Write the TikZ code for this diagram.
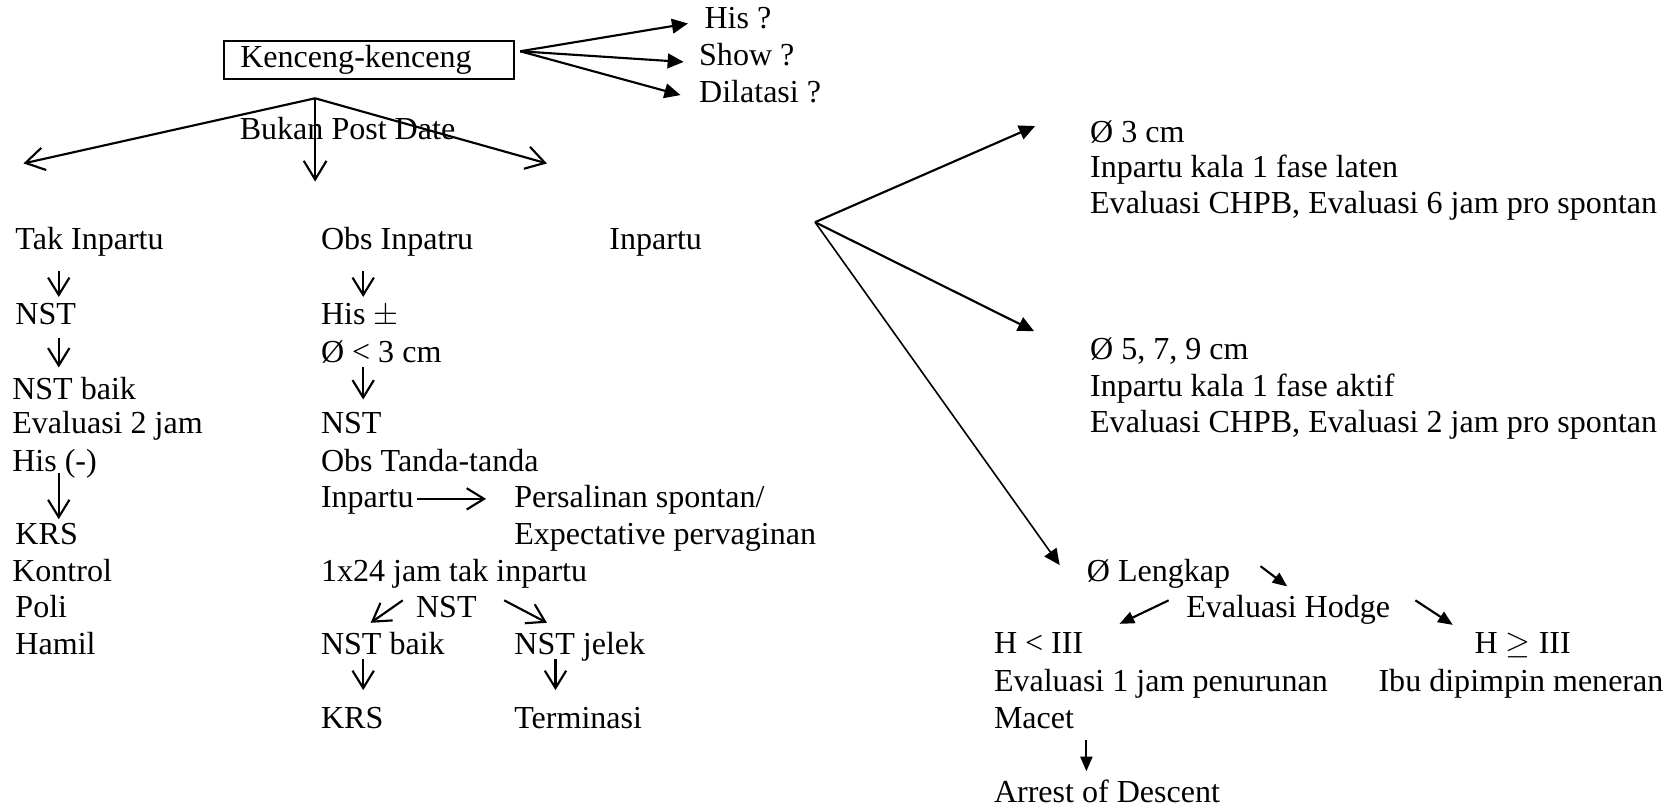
\documentclass[tikz,border=0pt]{standalone}
\usepackage{fontspec}
\setmainfont{Liberation Serif}
\usetikzlibrary{arrows.meta}
\begin{document}
\begin{tikzpicture}[x=0.4pt,y=-0.4pt,
  font=\fontsize{12}{13.8}\selectfont,
  txt/.style={anchor=base west, inner sep=0pt},
  openarr/.style={line width=0.8pt, -{Straight Barb[length=6.5pt,width=8pt]}},
  bigopen/.style={line width=0.8pt, -{Straight Barb[length=7pt,width=8.5pt]}},
  fillarr/.style={line width=0.8pt, -{Triangle[length=6pt,width=5.5pt]}},
  thinfill/.style={line width=0.6pt, -{Triangle[length=6pt,width=5.5pt]}},
  smallfill/.style={line width=0.8pt, -{Triangle[length=5.5pt,width=4.5pt]}}]
\useasboundingbox (0,0) rectangle (1568,759);

% top box
\node (box) [draw, line width=0.8pt, inner xsep=6pt, inner ysep=0pt, text width=96.4pt,
  minimum height=14.4pt, align=left] at (345.5,56) {Kenceng-kenceng};
\coordinate (boxr) at (487,48);
\node (his) [txt] at (659,27) {His ?};
\node (show) [txt] at (654,61) {Show ?};
\node (dil) [txt] at (654,96) {Dilatasi ?};
\coordinate (hisT) at (644,22);
\coordinate (showT) at (640,58);
\coordinate (dilT) at (637,89);
\draw[fillarr] (boxr) -- (hisT);
\draw[fillarr] (boxr) -- (showT);
\draw[fillarr] (boxr) -- (dilT);

% first fork
\coordinate (fork) at (295,92);
\coordinate (forkL) at (22,153);
\coordinate (forkM) at (295,170);
\coordinate (forkR) at (512,153);
\draw[bigopen] (fork) -- (forkL);
\draw[bigopen] (fork) -- (forkM);
\draw[bigopen] (fork) -- (forkR);
\node (bpd) [txt] at (224,131) {Bukan Post Date};

% left column
\node (tak) [txt] at (14,234) {Tak Inpartu};
\node (nstA) [txt] at (14,304) {NST};
\node (nstbA) [txt] at (11,374) {NST baik};
\node (ev2) [txt] at (11,406) {Evaluasi 2 jam};
\node (hisneg) [txt] at (11,441) {His (-)};
\node (krsA) [txt] at (14,510) {KRS};
\node (kon) [txt] at (11,544) {Kontrol};
\node (poli) [txt] at (14,578) {Poli};
\node (hamil) [txt] at (14,613) {Hamil};
\coordinate (a1s) at (55,254); \coordinate (a1e) at (55,278);
\coordinate (a2s) at (55,316); \coordinate (a2e) at (55,344);
\coordinate (a3s) at (55,443); \coordinate (a3e) at (55,486);
\draw[openarr] (a1s) -- (a1e);
\draw[openarr] (a2s) -- (a2e);
\draw[openarr] (a3s) -- (a3e);

% middle column
\node (obs) [txt] at (300,234) {Obs Inpatru};
\node (hispm) [txt] at (300,304) {His $\pm$};
\node (d3) [txt] at (300,339) {Ø < 3 cm};
\node (nstB) [txt] at (300,406) {NST};
\node (obst) [txt] at (300,441) {Obs Tanda-tanda};
\node (inpB) [txt] at (300,475) {Inpartu};
\node (pers) [txt] at (481,475) {Persalinan spontan/};
\node (expe) [txt] at (481,510) {Expectative pervaginan};
\node (x24) [txt] at (300,544) {1x24 jam tak inpartu};
\node (nstC) [txt] at (389,578) {NST};
\node (nstbB) [txt] at (300,613) {NST baik};
\node (nstj) [txt] at (481,613) {NST jelek};
\node (krsB) [txt] at (300,682) {KRS};
\node (term) [txt] at (481,682) {Terminasi};
\coordinate (b1s) at (340,254); \coordinate (b1e) at (340,278);
\coordinate (b2s) at (340,344); \coordinate (b2e) at (340,374);
\coordinate (b3s) at (390,467); \coordinate (b3e) at (455,467);
\coordinate (b4s) at (377,562); \coordinate (b4e) at (347,583);
\coordinate (b5s) at (472,562); \coordinate (b5e) at (512,583);
\coordinate (b6s) at (340,617); \coordinate (b6e) at (340,646);
\coordinate (b7s) at (520,617); \coordinate (b7e) at (520,646);
\draw[openarr] (b1s) -- (b1e);
\draw[openarr] (b2s) -- (b2e);
\draw[openarr] (b3s) -- (b3e);
\draw[openarr] (b4s) -- (b4e);
\draw[openarr] (b5s) -- (b5e);
\draw[openarr] (b6s) -- (b6e);
\draw[openarr] (b7s) -- (b7e);

% right branch
\node (inpR) [txt] at (570,234) {Inpartu};
\coordinate (fork2) at (763,208);
\coordinate (f2a) at (969,118);
\coordinate (f2b) at (968,310);
\coordinate (f2c) at (992,529);
\draw[fillarr] (fork2) -- (f2a);
\draw[fillarr] (fork2) -- (f2b);
\draw[thinfill] (fork2) -- (f2c);

\node (d3cm) [txt] at (1020,133) {Ø 3 cm};
\node (lat) [txt] at (1020,166) {Inpartu kala 1 fase laten};
\node (ev6) [txt] at (1020,200) {Evaluasi CHPB, Evaluasi 6 jam pro spontan};
\node (d579) [txt] at (1020,337) {Ø 5, 7, 9 cm};
\node (akt) [txt] at (1020,371) {Inpartu kala 1 fase aktif};
\node (ev2b) [txt] at (1020,405) {Evaluasi CHPB, Evaluasi 2 jam pro spontan};

\node (lengkap) [txt] at (1017,544) {Ø Lengkap};
\node (hodge) [txt] at (1110,578) {Evaluasi Hodge};
\node (hlt) [txt] at (930,612) {H < III};
\node (hge) [txt] at (1380,612) {H $\geq$ III};
\node (ev1) [txt] at (930,647) {Evaluasi 1 jam penurunan};
\node (ibu) [txt] at (1290,647) {Ibu dipimpin meneran};
\node (macet) [txt] at (930,682) {Macet};
\node (arrest) [txt] at (930,751) {Arrest of Descent};
\coordinate (c1s) at (1180,530); \coordinate (c1e) at (1205,549);
\coordinate (c2s) at (1094,562); \coordinate (c2e) at (1048,584);
\coordinate (c3s) at (1325,562); \coordinate (c3e) at (1360,585);
\coordinate (c4s) at (1017,693); \coordinate (c4e) at (1017,722);
\draw[smallfill] (c1s) -- (c1e);
\draw[smallfill] (c2s) -- (c2e);
\draw[smallfill] (c3s) -- (c3e);
\draw[smallfill] (c4s) -- (c4e);
\end{tikzpicture}
\end{document}
